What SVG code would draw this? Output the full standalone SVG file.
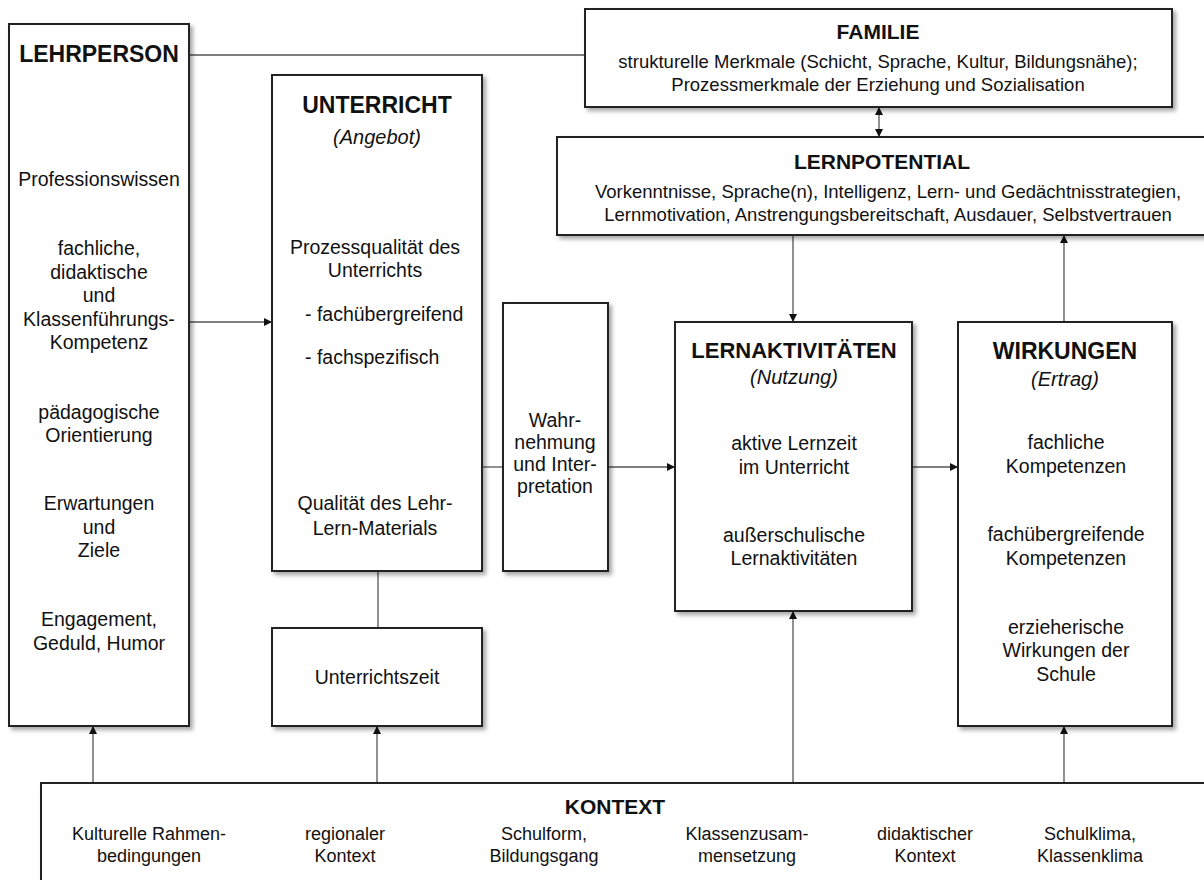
<svg xmlns="http://www.w3.org/2000/svg" width="1204" height="880" viewBox="0 0 1204 880">
<defs>
<filter id="sh" x="-10%" y="-10%" width="125%" height="125%">
<feDropShadow dx="3" dy="3" stdDeviation="2" flood-color="#000" flood-opacity="0.35"/>
</filter>
<marker id="ah" viewBox="0 0 10 10" refX="10" refY="5" markerWidth="8" markerHeight="9" markerUnits="userSpaceOnUse" orient="auto-start-reverse">
<path d="M0,0 L10,5 L0,10 z" fill="#111"/>
</marker>
</defs>
<style>
.box{fill:#fff;stroke:#222;stroke-width:2;filter:url(#sh)}
.t{font-family:"Liberation Sans",Arial,sans-serif;fill:#111;text-anchor:middle}
.tl{font-family:"Liberation Sans",Arial,sans-serif;fill:#111;text-anchor:start}
.h{font-weight:bold;font-size:23px}
.h2{font-weight:bold;font-size:21px}
.it{font-style:italic;font-size:20px}
.b{font-size:19.5px}
.s{font-size:18.5px}
.k{font-size:18px}
.c{stroke:#555;stroke-width:1.3;fill:none}
.ca{stroke:#555;stroke-width:1.3;fill:none;marker-end:url(#ah)}
</style>

<g id="connectors">
<line class="c" x1="189" y1="55" x2="585" y2="55"/>
<line class="ca" x1="879" y1="107" x2="879" y2="137" style="marker-start:url(#ah)"/>
<line class="ca" x1="793" y1="235" x2="793" y2="322"/>
<line class="ca" x1="1064" y1="322" x2="1064" y2="235"/>
<line class="ca" x1="189" y1="322" x2="272" y2="322"/>
<line class="c" x1="482" y1="467" x2="503" y2="467"/>
<line class="ca" x1="608" y1="467" x2="675" y2="467"/>
<line class="ca" x1="912" y1="467" x2="958" y2="467"/>
<line class="c" x1="378" y1="571" x2="378" y2="628"/>
<line class="ca" x1="93" y1="783" x2="93" y2="726"/>
<line class="ca" x1="377" y1="783" x2="377" y2="726"/>
<line class="ca" x1="793" y1="783" x2="793" y2="611"/>
<line class="ca" x1="1064" y1="783" x2="1064" y2="726"/>
</g>

<g id="lehrperson">
<rect class="box" x="9" y="24" width="180" height="702"/>
<text class="t h" x="99" y="62">LEHRPERSON</text>
<text class="t b" x="99" y="186">Professionswissen</text>
<text class="t b" x="99" y="255">fachliche,</text>
<text class="t b" x="99" y="279">didaktische</text>
<text class="t b" x="99" y="302">und</text>
<text class="t b" x="99" y="326">Klassenführungs-</text>
<text class="t b" x="99" y="349">Kompetenz</text>
<text class="t b" x="99" y="419">pädagogische</text>
<text class="t b" x="99" y="442">Orientierung</text>
<text class="t b" x="99" y="510">Erwartungen</text>
<text class="t b" x="99" y="534">und</text>
<text class="t b" x="99" y="557">Ziele</text>
<text class="t b" x="99" y="626">Engagement,</text>
<text class="t b" x="99" y="650">Geduld, Humor</text>
</g>

<g id="unterricht">
<rect class="box" x="272" y="75" width="210" height="496"/>
<text class="t h" x="377" y="113">UNTERRICHT</text>
<text class="t it" x="377" y="144">(Angebot)</text>
<text class="t b" x="375" y="254">Prozessqualität des</text>
<text class="t b" x="375" y="277">Unterrichts</text>
<text class="tl b" x="305" y="321">- fachübergreifend</text>
<text class="tl b" x="305" y="364">- fachspezifisch</text>
<text class="t b" x="375" y="510">Qualität des Lehr-</text>
<text class="t b" x="375" y="535">Lern-Materials</text>
</g>

<g id="unterrichtszeit">
<rect class="box" x="272" y="628" width="210" height="98"/>
<text class="t b" x="377" y="684">Unterrichtszeit</text>
</g>

<g id="wahrnehmung">
<rect class="box" x="503" y="303" width="105" height="268"/>
<text class="t b" x="555" y="427">Wahr-</text>
<text class="t b" x="555" y="449">nehmung</text>
<text class="t b" x="555" y="471">und Inter-</text>
<text class="t b" x="555" y="493">pretation</text>
</g>

<g id="familie">
<rect class="box" x="585" y="9" width="587" height="98"/>
<text class="t h2" x="878" y="39">FAMILIE</text>
<text class="t s" x="878" y="68">strukturelle Merkmale (Schicht, Sprache, Kultur, Bildungsnähe);</text>
<text class="t s" x="878" y="91">Prozessmerkmale der Erziehung und Sozialisation</text>
</g>

<g id="lernpotential">
<rect class="box" x="557" y="137" width="670" height="98"/>
<text class="t h2" x="882" y="169">LERNPOTENTIAL</text>
<text class="t s" x="888" y="198">Vorkenntnisse, Sprache(n), Intelligenz, Lern- und Gedächtnisstrategien,</text>
<text class="t s" x="888" y="221">Lernmotivation, Anstrengungsbereitschaft, Ausdauer, Selbstvertrauen</text>
</g>

<g id="lernaktivitaeten">
<rect class="box" x="675" y="322" width="237" height="289"/>
<text class="t h" x="794" y="358" style="font-size:22px">LERNAKTIVITÄTEN</text>
<text class="t it" x="794" y="384">(Nutzung)</text>
<text class="t b" x="794" y="450">aktive Lernzeit</text>
<text class="t b" x="794" y="474">im Unterricht</text>
<text class="t b" x="794" y="542">außerschulische</text>
<text class="t b" x="794" y="565">Lernaktivitäten</text>
</g>

<g id="wirkungen">
<rect class="box" x="958" y="322" width="214" height="404"/>
<text class="t h" x="1065" y="359">WIRKUNGEN</text>
<text class="t it" x="1065" y="386">(Ertrag)</text>
<text class="t b" x="1066" y="449">fachliche</text>
<text class="t b" x="1066" y="473">Kompetenzen</text>
<text class="t b" x="1066" y="541">fachübergreifende</text>
<text class="t b" x="1066" y="565">Kompetenzen</text>
<text class="t b" x="1066" y="634">erzieherische</text>
<text class="t b" x="1066" y="657">Wirkungen der</text>
<text class="t b" x="1066" y="681">Schule</text>
</g>

<g id="kontext">
<rect class="box" x="41" y="783" width="1190" height="120"/>
<text class="t h2" x="615" y="814">KONTEXT</text>
<text class="t k" x="149" y="840">Kulturelle Rahmen-</text>
<text class="t k" x="149" y="862">bedingungen</text>
<text class="t k" x="345" y="840">regionaler</text>
<text class="t k" x="345" y="862">Kontext</text>
<text class="t k" x="544" y="840">Schulform,</text>
<text class="t k" x="544" y="862">Bildungsgang</text>
<text class="t k" x="747" y="840">Klassenzusam-</text>
<text class="t k" x="747" y="862">mensetzung</text>
<text class="t k" x="925" y="840">didaktischer</text>
<text class="t k" x="925" y="862">Kontext</text>
<text class="t k" x="1090" y="840">Schulklima,</text>
<text class="t k" x="1090" y="862">Klassenklima</text>
</g>
</svg>
